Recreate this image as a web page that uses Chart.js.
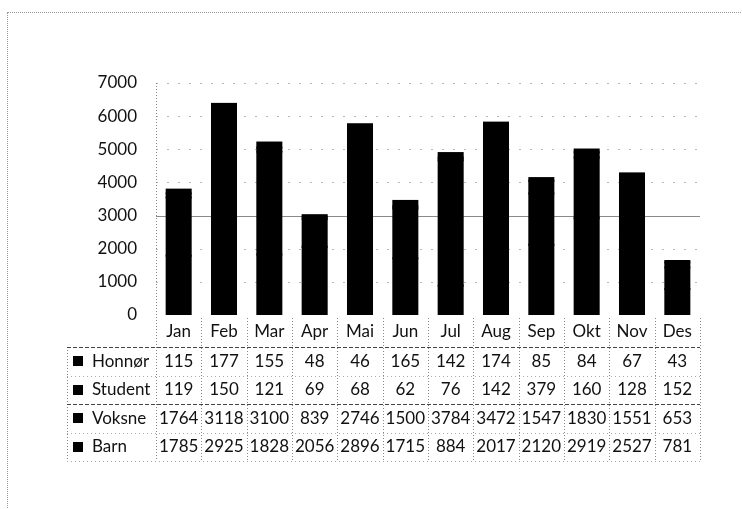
<!DOCTYPE html>
<html>
<head>
<meta charset="utf-8">
<script src="https://cdn.jsdelivr.net/npm/chart.js@4/dist/chart.umd.min.js"></script>
<style>
  html, body { margin: 0; padding: 0; background: #fff; }
  #wrap { position: relative; width: 742px; height: 509px; }
  #frame { position: absolute; left: 7px; top: 12px; right: -5px; bottom: -5px;
           border-left: 1px dotted #999; border-top: 1px dotted #999; pointer-events: none; }
  canvas { position: absolute; left: 0; top: 0; }
</style>
</head>
<body>
<div id="wrap">
  <canvas id="c" width="742" height="509"></canvas>
  <div id="frame"></div>
</div>
<script>
const months = ["Jan","Feb","Mar","Apr","Mai","Jun","Jul","Aug","Sep","Okt","Nov","Des"];
const seriesNames = ["Honnør","Student","Voksne","Barn"];
const honnor  = [115,177,155,48,46,165,142,174,85,84,67,43];
const student = [119,150,121,69,68,62,76,142,379,160,128,152];
const voksne  = [1764,3118,3100,839,2746,1500,3784,3472,1547,1830,1551,653];
const barn    = [1785,2925,1828,2056,2896,1715,884,2017,2120,2919,2527,781];
const yTicks  = [0,1000,2000,3000,4000,5000,6000,7000];

const tableRows = [honnor, student, voksne, barn];
const FONT = 'Lato, "Open Sans", sans-serif';
const tableTop = 347, rowH = 28.5, tableLeft = 67;

const gridPlugin = {
  id: 'dottedGrid',
  beforeDatasetsDraw(chart) {
    const ctx = chart.ctx, ys = chart.scales.y, area = chart.chartArea;
    ctx.save();
    ctx.lineWidth = 1;
    yTicks.forEach(v => {
      if (v === 0) return;
      const y = Math.round(ys.getPixelForValue(v)) + 0.5;
      if (v === 3000) { ctx.strokeStyle = '#8a8a8a'; ctx.setLineDash([]); }
      else { ctx.strokeStyle = '#b8b8b8'; ctx.setLineDash([2, 9]); }
      ctx.beginPath();
      ctx.moveTo(area.left, y);
      ctx.lineTo(area.right, y);
      ctx.stroke();
    });
    ctx.restore();
  }
};

const tablePlugin = {
  id: 'dataTable',
  afterDraw(chart) {
    const ctx = chart.ctx;
    const xs = chart.scales.x;
    const area = chart.chartArea;
    const n = months.length;
    const band = (area.right - area.left) / n;
    const tableBottom = tableTop + rowH * tableRows.length;
    ctx.save();
    ctx.lineWidth = 1;
    // y axis line (dotted) down through the table
    ctx.strokeStyle = '#888';
    ctx.setLineDash([1, 2]);
    ctx.beginPath();
    ctx.moveTo(Math.round(area.left) + 0.5, area.top);
    ctx.lineTo(Math.round(area.left) + 0.5, tableBottom);
    ctx.stroke();
    // vertical separators
    for (let k = 1; k <= n; k++) {
      const x = Math.round(area.left + band * k) + 0.5;
      ctx.beginPath();
      ctx.moveTo(x, area.bottom + 3);
      ctx.lineTo(x, tableBottom);
      ctx.stroke();
    }
    // left border of the table
    ctx.beginPath();
    ctx.moveTo(tableLeft + 0.5, tableTop);
    ctx.lineTo(tableLeft + 0.5, tableBottom);
    ctx.stroke();
    // horizontal lines
    for (let r = 0; r <= tableRows.length; r++) {
      const y = Math.round(tableTop + rowH * r) + 0.5;
      if (r === 0 || r === 2) { ctx.strokeStyle = '#444'; ctx.setLineDash([4, 2]); }
      else { ctx.strokeStyle = '#aaa'; ctx.setLineDash([1, 3]); }
      ctx.beginPath();
      ctx.moveTo(tableLeft, y);
      ctx.lineTo(area.right, y);
      ctx.stroke();
    }
    ctx.setLineDash([]);
    // text
    ctx.font = '17px ' + FONT;
    ctx.textBaseline = 'middle';
    tableRows.forEach((row, r) => {
      const yc = tableTop + rowH * r + rowH / 2;
      ctx.fillStyle = '#000';
      ctx.fillRect(73, Math.round(yc - 5), 10, 10);
      ctx.fillStyle = '#111';
      ctx.textAlign = 'left';
      ctx.fillText(seriesNames[r], 92, yc);
      ctx.textAlign = 'center';
      row.forEach((v, i) => {
        ctx.fillText(String(v), xs.getPixelForValue(i), yc);
      });
    });
    ctx.restore();
  }
};

const mk = (label, data) => ({
  label, data,
  backgroundColor: '#000',
  borderWidth: 0,
  inflateAmount: 1,
  barPercentage: 0.53,
  categoryPercentage: 1.0
});

new Chart(document.getElementById('c'), {
  type: 'bar',
  data: {
    labels: months,
    datasets: [mk(seriesNames[3], barn), mk(seriesNames[2], voksne), mk(seriesNames[1], student), mk(seriesNames[0], honnor)]
  },
  options: {
    responsive: false,
    animation: false,
    devicePixelRatio: 1,
    layout: { padding: { top: 83, right: 42, left: 0, bottom: 0 } },
    plugins: { legend: { display: false }, tooltip: { enabled: false } },
    scales: {
      x: {
        stacked: true,
        grid: { display: false, drawTicks: false },
        border: { display: false },
        ticks: { font: { family: FONT, size: 17 }, color: '#111', padding: 6, maxRotation: 0 },
        afterFit(s) { s.height = 194; }
      },
      y: {
        stacked: true,
        min: 0, max: 7000,
        afterBuildTicks(s) { s.ticks = yTicks.map(v => ({ value: v })); },
        grid: { display: false, drawTicks: false },
        border: { display: false },
        ticks: { font: { family: FONT, size: 17 }, color: '#111', padding: 19, callback: v => String(v) },
        afterFit(s) { s.width = 156; }
      }
    }
  },
  plugins: [gridPlugin, tablePlugin]
});
</script>
</body>
</html>
